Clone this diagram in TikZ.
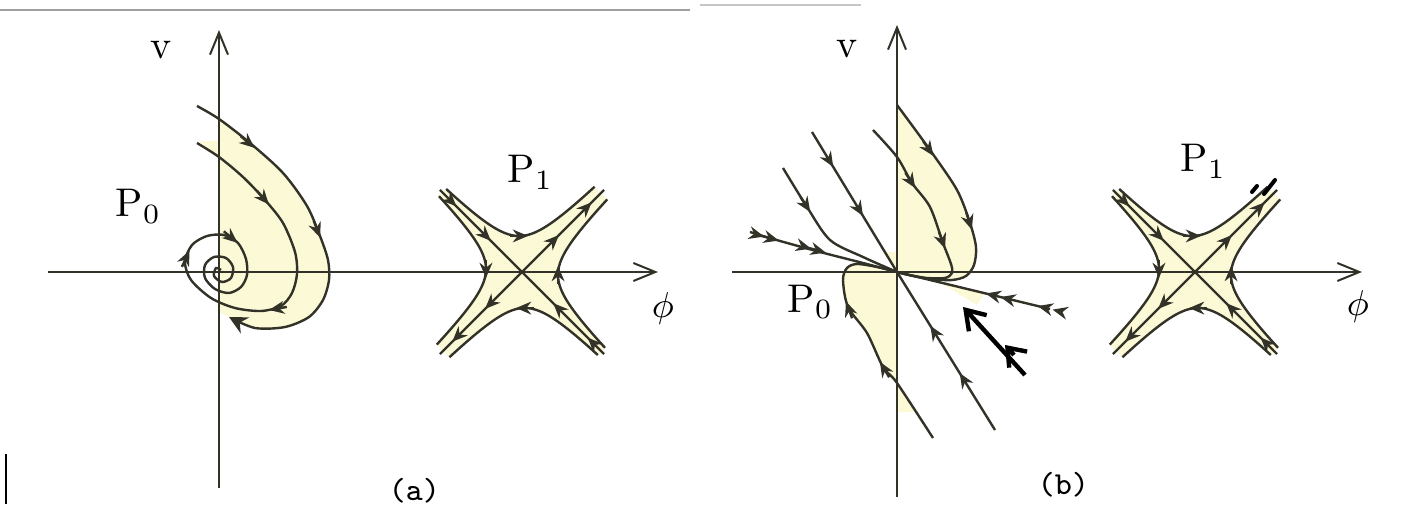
\documentclass[tikz,border=0pt]{standalone}
\usepackage{amsmath}
\usetikzlibrary{arrows.meta,decorations.markings}

\definecolor{basin}{RGB}{251,249,214}
\definecolor{ink}{RGB}{50,50,40}

\tikzset{
  axis/.style = {draw=ink, line width=0.5pt, -{Straight Barb[length=5.5pt,width=4.5pt]}},
  traj/.style = {draw=ink, line width=0.6pt},
  tipstem/.style = {draw=ink, line width=0.6pt, -{Stealth[length=3.8pt,width=3.2pt]}},
  dtipstem/.style = {draw=ink, line width=0.6pt, -{Stealth[length=3.8pt,width=3.2pt] Stealth[length=3.8pt,width=3.2pt]}},
  arrowat/.style = {postaction={decorate, decoration={markings,
      mark=at position #1 with {\arrow{Stealth[length=3.8pt,width=3.2pt]}}}}},
  darrowat/.style = {postaction={decorate, decoration={markings,
      mark=at position #1 with {\arrow{Stealth[length=3.8pt,width=3.2pt] Stealth[length=3.8pt,width=3.2pt]}}}}},
  lbl/.style = {anchor=base west, inner sep=0pt, text=black},
}
% arrow head on a curved orbit: point, direction
\newcommand{\flowtip}[2]{\draw[tipstem] #1 ++({#2+180}:12) -- ++({#2}:18);}
\newcommand{\dflowtip}[2]{\draw[dtipstem] #1 ++({#2+180}:12) -- ++({#2}:18);}

\begin{document}
\begin{tikzpicture}[x=0.25pt, y=0.25pt]
  \useasboundingbox (0,0) rectangle (1403,504);
  % scan edges
  \path[draw=gray!75, line width=0.5pt] (0,494) to (690,494);
  \path[draw=gray!45, line width=0.5pt] (700,499) to (861,499);
  \path[draw=black, line width=0.5pt] (6,0) to (6,50);

  % origins
  \coordinate (Oa) at (219,232);
  \coordinate (Sa) at (522,232);
  \coordinate (Ob) at (897,232);
  \coordinate (Sb) at (1195,232);

  % basins (a)
  \begin{scope}[shift={(Oa)}]
    \fill[basin] (-20,131) -- (0,131) -- (0,115) -- cycle;
    \fill[basin] plot[smooth] coordinates {(0,153) (31,129) (64,99) (88,66) (101,36) (109,12) (110,-8) (104,-28) (90,-45) (66,-55) (36,-56) (10,-45)} -- (0,-40) -- cycle;
  \end{scope}
  % basins (b)
  \begin{scope}[shift={(Ob)}]
    \fill[basin] plot[smooth] coordinates {(0,167) (33,122) (60,82) (73,49) (79,25) (77,7) (69,-4) (55,-8) (33,-7) (12,-3) (0,0)} -- cycle;
    \fill[basin] plot[smooth] coordinates {(0,-111) (-14,-95) (-30,-61) (-49,-35) (-54,-8) (-50,4) (-40,8) (-20,5) (0,0)} -- cycle;
    \fill[basin] (0,-111) -- (19,-140) -- (0,-140) -- cycle;
    \fill[basin] (0,0) -- (-12,20) -- (0,20) -- cycle;
    \fill[basin] (40,-9) -- (88,-21) -- (80,-33) -- cycle;
  \end{scope}
  % basins of the saddles
  \foreach \c in {Sa,Sb}{
    \begin{scope}[shift={(\c)}, rotate=45]
      \fill[basin] plot[domain=-1.53:1.56, samples=40] ({23.45*exp(\x)}, {23.45*exp(-\x)+4})
        -- plot[domain=1.56:-1.53, samples=40] ({23.45*exp(\x)}, {-(23.45*exp(-\x)+4)})
        -- plot[domain=-1.53:1.56, samples=40] ({-23.45*exp(\x)}, {-(23.45*exp(-\x)+4)})
        -- plot[domain=1.56:-1.53, samples=40] ({-23.45*exp(\x)}, {23.45*exp(-\x)+4})
        -- cycle;
    \end{scope}
  }

  % axes
  \coordinate (ha-l) at (48,232);
  \coordinate (ha-r) at (658,232);
  \coordinate (va-b) at (219,16);
  \coordinate (va-t) at (219,474);
  \coordinate (hb-l) at (732,232);
  \coordinate (hb-r) at (1362,232);
  \coordinate (vb-b) at (897,7);
  \coordinate (vb-t) at (897,479);
  \path[axis] (ha-l) -- (ha-r);
  \path[axis] (va-b) -- (va-t);
  \path[axis] (hb-l) -- (hb-r);
  \path[axis] (vb-b) -- (vb-t);

  % (a) spiral focus P0
  \begin{scope}[shift={(Oa)}]
    \path[traj, -{Stealth[length=4.5pt,width=4.5pt]}]
      plot[smooth] coordinates {(-22,166) (0,153) (31,129) (64,99) (88,66) (101,36) (109,12) (110,-8) (104,-28) (90,-45) (66,-55) (36,-56) (10,-45)};
    \flowtip{(31,128)}{-40}
    \flowtip{(99,40)}{-69}
    \path[traj]
      plot[smooth] coordinates {(-22,129) (0,115) (24,95) (46,72) (64,49) (76,20) (78,-2) (73,-21) (62,-34) (42,-39) (16,-36) (-8,-26) (-28,-8) (-34,10) (-27,27) (-12,36) (5,37) (19,29) (27,13) (28,-3) (22,-15) (10,-21) (-4,-17) (-14,-6) (-14,7) (-5,15) (7,14) (14,5) (12,-6) (3,-10) (-5,-4) (-3,4) (2,2)};
    \flowtip{(46,72)}{-49}
    \flowtip{(56,-37)}{190}
    \flowtip{(-32,16)}{65}
    \flowtip{(14,33)}{-40}
  \end{scope}

  % (b) stable node P0
  \begin{scope}[shift={(Ob)}]
    \path[traj] plot[smooth] coordinates {(0,167) (33,122) (60,82) (73,49) (79,25) (77,7) (69,-4) (55,-8) (33,-7) (12,-3) (0,0)};
    \flowtip{(33,121)}{-55}
    \flowtip{(73,48)}{-72}
    \path[traj] plot[smooth] coordinates {(-24,142) (0,115) (15,89) (33,65) (46,29) (54,8) (55,-1) (48,-6) (30,-6) (12,-3) (0,0)};
    \flowtip{(15,89)}{-57}
    \flowtip{(46,29)}{-70}
    \path[traj] plot[smooth] coordinates {(36,-166) (0,-111) (-14,-95) (-30,-61) (-49,-35) (-54,-8) (-50,4) (-40,8) (-20,5) (0,0)};
    \flowtip{(-14,-95)}{121}
    \flowtip{(-49,-35)}{110}
    \path[traj] plot[smooth] coordinates {(-114,104) (-90,65) (-67,32) (-34,15) (0,0)};
    \flowtip{(-90,65)}{-57}
    \path[traj] plot[smooth] coordinates {(-147,40) (-124,33) (-77,20) (-34,9) (0,0)};
    \dflowtip{(-124,33)}{-15}
    \dflowtip{(-77,21)}{-15}
    % fast direction
    \path[traj, arrowat=0.25, arrowat=0.6] (-85,140) -- (0,0);
    \path[traj, arrowat=0.36, arrowat=0.66] (98,-158) -- (0,0);
    % slow direction
    \path[traj, darrowat=0.08, darrowat=0.42] (153,-37) -- (0,0);
    % marked orbit
    \coordinate (mk-tail) at (128,-103);
    \coordinate (mk-tip) at (66,-35);
    \path[draw=black, line width=1.1pt, -{Straight Barb[length=4.5pt,width=6pt]}] (mk-tail) -- (mk-tip);
    \path[draw=black, line width=1.1pt, -{Straight Barb[length=4pt,width=6pt]}] (117,-83) -- (108,-73);
  \end{scope}

  % saddles P1
  \foreach \c in {Sa,Sb}{
    \begin{scope}[shift={(\c)}, rotate=45]
      % separatrices
      \path[traj, arrowat=0.45, arrowat=0.85] (0,0) -- (116,0);
      \path[traj, arrowat=0.45, arrowat=0.85] (0,0) -- (-116,0);
      \path[traj, arrowat=0.2, arrowat=0.62] (0,116) -- (0,0);
      \path[traj, arrowat=0.2, arrowat=0.62] (0,-116) -- (0,0);
      % hyperbolic orbits
      \foreach \sx/\sy/\a in {1/1/-45, 1/-1/45, -1/1/-135, -1/-1/135}{
        \path[traj] plot[domain=-1.53:1.56, samples=40] ({\sx*23.45*exp(\x)}, {\sy*(23.45*exp(-\x)+4)});
        \flowtip{(\sx*25.5,\sy*25.5)}{\a}
      }
    \end{scope}
  }
  % pen marks
  \path[draw=black, line width=1pt, line cap=round] (1252,312) -- (1257,318);
  \path[draw=black, line width=1pt, line cap=round] (1264,310) -- (1275,324);

  % labels
  \node[lbl] (va-lbl) at (150,445) {v};
  \node[lbl] (vb-lbl) at (836,446) {v};
  \node[lbl] (phia) at (651,186) {\fontsize{9}{11}\selectfont$\phi$};
  \node[lbl] (phib) at (1346,189) {\fontsize{9}{11}\selectfont$\phi$};
  \node[lbl] (P0a) at (115,287) {P$_0$};
  \node[lbl] (P1a) at (507,321) {P$_1$};
  \node[lbl] (P0b) at (787,192) {P$_0$};
  \node[lbl] (P1b) at (1180,332) {P$_1$};
  \node[lbl] (capa) at (388,4) {\footnotesize\texttt{(a)}};
  \node[lbl] (capb) at (1037,10) {\footnotesize\texttt{(b)}};
\end{tikzpicture}
\end{document}
